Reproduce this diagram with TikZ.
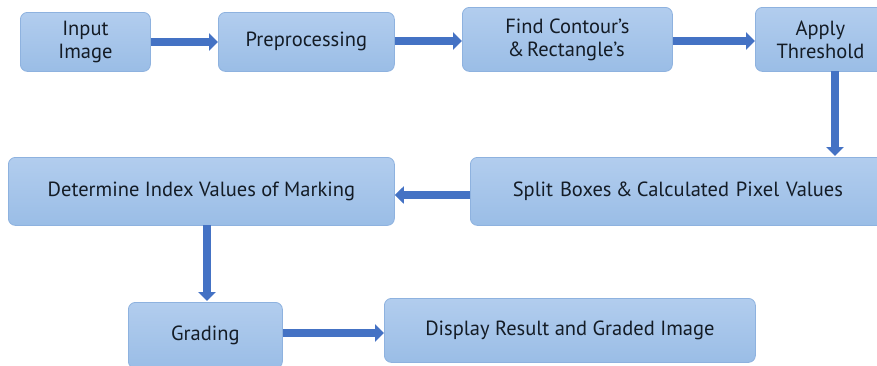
\documentclass[tikz,border=0pt]{standalone}
\usepackage{fontspec}
\setmainfont{PT Sans}
\usetikzlibrary{arrows.meta}
\definecolor{boxtop}{HTML}{B2CDEE}
\definecolor{boxbot}{HTML}{9ABDE6}
\definecolor{boxline}{HTML}{8EB2DF}
\definecolor{flow}{HTML}{4472C4}
\definecolor{ink}{HTML}{141C26}
% ampersand with its wide side bearings trimmed
\newcommand{\amp}{\kern-2.5pt\&\kern-2.5pt}
\tikzset{
  stage/.style={rounded corners=7pt, top color=boxtop, bottom color=boxbot,
    draw=boxline, line width=0.8pt, text=ink, align=center,
    font=\fontsize{20.5}{23}\selectfont, inner sep=0pt, anchor=north west},
  flowarrow/.style={draw=flow, line width=8pt,
    -{Triangle[width=17pt,length=9pt,fill=flow]}}
}
\begin{document}
\begin{tikzpicture}[x=1pt,y=-1pt]
  \useasboundingbox (0,0) rectangle (877,365);
  \clip (0,0) rectangle (877,365);
  % process stages, sized in page units
  \node[stage, minimum width=130pt, minimum height=59pt] (input) at (20,12) {Input\\Image};
  \node[stage, minimum width=176pt, minimum height=59pt] (prep) at (218,12) {Preprocessing};
  \node[stage, minimum width=210pt, minimum height=64pt] (contour) at (462,7) {Find Contour’s\\\amp{} Rectangle’s};
  \node[stage, minimum width=130pt, minimum height=64pt, text width=122pt] (thresh) at (755,7) {Apply\\Threshold};
  \node[stage, minimum width=415pt, minimum height=68pt, text width=400pt] (split) at (470,157) {Split Boxes \amp{} Calculated Pixel Values};
  \node[stage, minimum width=386pt, minimum height=68pt] (index) at (8,157) {Determine Index Values of Marking};
  \node[stage, minimum width=154pt, minimum height=66pt] (grading) at (128,302) {Grading};
  \node[stage, minimum width=371pt, minimum height=64pt] (display) at (384,298) {Display Result and Graded Image};
  % connectors between stages
  \draw[flowarrow] (input.east |- 0,42) -- (prep.west |- 0,42);
  \draw[flowarrow] (prep.east |- 0,41) -- (contour.west |- 0,41);
  \draw[flowarrow] (contour.east |- 0,41) -- (thresh.west |- 0,41);
  \draw[flowarrow] (835,71) -- (835,156);
  \draw[flowarrow] (split.west |- 0,195) -- (index.east |- 0,195);
  \draw[flowarrow] (207,225) -- (207,301);
  \draw[flowarrow] (grading.east |- 0,333) -- (display.west |- 0,333);
\end{tikzpicture}
\end{document}
